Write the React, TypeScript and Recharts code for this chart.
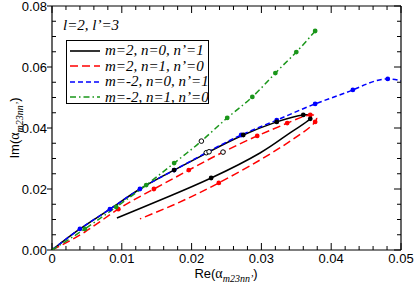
import React from 'react';
import { ComposedChart, Line, Scatter, XAxis, YAxis, Legend } from 'recharts';

// ---------- data ----------
const blackPath = [
  { x: 0, y: 0 }, { x: 0.0040, y: 0.0069 }, { x: 0.0083, y: 0.0134 }, { x: 0.0126, y: 0.0200 },
  { x: 0.0175, y: 0.0262 }, { x: 0.0225, y: 0.0322 }, { x: 0.0274, y: 0.0377 }, { x: 0.0322, y: 0.0420 },
  { x: 0.0360, y: 0.0443 }, { x: 0.0370, y: 0.0430 }, { x: 0.0341, y: 0.0384 }, { x: 0.0298, y: 0.0318 },
  { x: 0.0228, y: 0.0236 }, { x: 0.0169, y: 0.0177 }, { x: 0.0126, y: 0.0136 }, { x: 0.0093, y: 0.0105 },
];
const blackMarks = [
  { x: 0.0175, y: 0.0262 }, { x: 0.0274, y: 0.0377 }, { x: 0.0322, y: 0.0420 },
  { x: 0.0360, y: 0.0443 }, { x: 0.0370, y: 0.0430 }, { x: 0.0228, y: 0.0236 },
];
const blackOpen = [{ x: 0.0225, y: 0.0322 }];

const redPath = [
  { x: 0, y: 0 }, { x: 0.0047, y: 0.0059 }, { x: 0.0095, y: 0.0134 }, { x: 0.0146, y: 0.0200 },
  { x: 0.0196, y: 0.0262 }, { x: 0.0245, y: 0.0321 }, { x: 0.0294, y: 0.0374 }, { x: 0.0337, y: 0.0416 },
  { x: 0.0370, y: 0.0443 }, { x: 0.0377, y: 0.0420 }, { x: 0.0344, y: 0.0361 }, { x: 0.0298, y: 0.0295 },
  { x: 0.0239, y: 0.0220 }, { x: 0.0183, y: 0.0157 }, { x: 0.0126, y: 0.0102 },
];
const redMarks = [
  { x: 0, y: 0 }, { x: 0.0095, y: 0.0134 }, { x: 0.0146, y: 0.0200 }, { x: 0.0196, y: 0.0262 },
  { x: 0.0294, y: 0.0374 }, { x: 0.0337, y: 0.0416 }, { x: 0.0370, y: 0.0443 }, { x: 0.0377, y: 0.0420 },
  { x: 0.0239, y: 0.0220 },
];
const redOpen = [{ x: 0.0245, y: 0.0321 }];

const bluePath = [
  { x: 0, y: 0 }, { x: 0.0040, y: 0.0069 }, { x: 0.0083, y: 0.0134 }, { x: 0.0126, y: 0.0200 },
  { x: 0.0175, y: 0.0262 }, { x: 0.0221, y: 0.0319 }, { x: 0.0271, y: 0.0377 }, { x: 0.0322, y: 0.0426 },
  { x: 0.0377, y: 0.0479 }, { x: 0.0431, y: 0.0525 }, { x: 0.0481, y: 0.0561 }, { x: 0.0531, y: 0.0525 },
];
const blueMarks = [
  { x: 0, y: 0 }, { x: 0.0040, y: 0.0069 }, { x: 0.0083, y: 0.0134 }, { x: 0.0126, y: 0.0200 },
  { x: 0.0175, y: 0.0262 }, { x: 0.0271, y: 0.0377 }, { x: 0.0322, y: 0.0426 },
  { x: 0.0377, y: 0.0479 }, { x: 0.0431, y: 0.0525 }, { x: 0.0481, y: 0.0561 },
];
const blueOpen = [{ x: 0.0221, y: 0.0319 }];

const greenPath = [
  { x: 0, y: 0 }, { x: 0.0047, y: 0.0069 }, { x: 0.0092, y: 0.0141 }, { x: 0.0135, y: 0.0213 },
  { x: 0.0175, y: 0.0285 }, { x: 0.0214, y: 0.0357 }, { x: 0.0251, y: 0.0433 }, { x: 0.0287, y: 0.0502 },
  { x: 0.0320, y: 0.0580 }, { x: 0.0350, y: 0.0649 }, { x: 0.0377, y: 0.0718 },
];
const greenMarks = [
  { x: 0, y: 0 }, { x: 0.0047, y: 0.0069 }, { x: 0.0092, y: 0.0141 }, { x: 0.0135, y: 0.0213 },
  { x: 0.0175, y: 0.0285 }, { x: 0.0251, y: 0.0433 }, { x: 0.0287, y: 0.0502 },
  { x: 0.0320, y: 0.0580 }, { x: 0.0350, y: 0.0649 }, { x: 0.0377, y: 0.0718 },
];
const greenOpen = [{ x: 0.0214, y: 0.0357 }];

const xTicks = [0, 0.002, 0.004, 0.006, 0.008, 0.01, 0.012, 0.014, 0.016, 0.018, 0.02, 0.022, 0.024, 0.026, 0.028,
  0.03, 0.032, 0.034, 0.036, 0.038, 0.04, 0.042, 0.044, 0.046, 0.048, 0.05];
const xLabels: Record<string, string> = { '0': '0', '0.01': '0.01', '0.02': '0.02', '0.03': '0.03', '0.04': '0.04', '0.05': '0.05' };
const yTicks = [0, 0.005, 0.01, 0.015, 0.02, 0.025, 0.03, 0.035, 0.04, 0.045, 0.05, 0.055, 0.06, 0.065, 0.07, 0.075, 0.08];
const yLabels: Record<string, string> = { '0': '0.00', '0.02': '0.02', '0.04': '0.04', '0.06': '0.06', '0.08': '0.08' };

const seriesNames = ['m=2, n=0, n\u2019=1', 'm=2, n=1, n\u2019=0', 'm=-2, n=0, n\u2019=1', 'm=-2, n=1, n\u2019=0'];

// ---------- styles ----------
const C_BLACK = '#000000';
const C_RED = '#ff0000';
const C_BLUE = '#0000ff';
const C_GREEN = '#1a961a';
const D_RED = '8 4';
const D_BLUE = '5 3';
const D_GREEN = '6 3 1.5 3';
const SANS = 'Liberation Sans, Arial, sans-serif';
const SERIF = 'Liberation Serif, Times New Roman, serif';

const isMajorX = (v: number) => Math.abs(v * 100 - Math.round(v * 100)) < 1e-6;
const isMajorY = (v: number) => Math.abs(v * 50 - Math.round(v * 50)) < 1e-6;

const BottomTick = (p: any) => {
  const v = p.payload.value;
  const major = isMajorX(v);
  const lab = xLabels[String(+v.toFixed(3))];
  return (
    <g>
      <line x1={p.x} x2={p.x} y1={p.y} y2={p.y - (major ? 7 : 4)} stroke="#000" strokeWidth={1} />
      {lab !== undefined && (
        <text x={p.x} y={p.y + 13} textAnchor="middle" fontFamily={SANS} fontSize={13} fill="#000">{lab}</text>
      )}
    </g>
  );
};
const TopTick = (p: any) => {
  const v = p.payload.value;
  const major = isMajorX(v);
  return <line x1={p.x} x2={p.x} y1={p.y} y2={p.y + (major ? 7 : 4)} stroke="#000" strokeWidth={1} />;
};
const LeftTick = (p: any) => {
  const v = p.payload.value;
  const major = isMajorY(v);
  const lab = yLabels[String(+v.toFixed(3))];
  return (
    <g>
      {major ? (
        <line x1={p.x - 5} x2={p.x} y1={p.y} y2={p.y} stroke="#000" strokeWidth={1} />
      ) : (
        <line x1={p.x} x2={p.x + 4} y1={p.y} y2={p.y} stroke="#000" strokeWidth={1} />
      )}
      {lab !== undefined && (
        <text x={p.x - 5} y={p.y + 4.7} textAnchor="end" fontFamily={SANS} fontSize={13} fill="#000">{lab}</text>
      )}
    </g>
  );
};
const RightTick = (p: any) => {
  const v = p.payload.value;
  const major = isMajorY(v);
  return <line x1={p.x} x2={p.x - (major ? 7 : 4)} y1={p.y} y2={p.y} stroke="#000" strokeWidth={1} />;
};

const dotShape = (color: string) => (p: any) => <circle cx={p.cx} cy={p.cy} r={2.4} fill={color} stroke="none" />;
const openShape = (p: any) => <circle cx={p.cx} cy={p.cy} r={2.3} fill="#fff" stroke="#000" strokeWidth={1} />;

const legendItems = [
  { name: seriesNames[0], color: C_BLACK, dash: undefined as string | undefined },
  { name: seriesNames[1], color: C_RED, dash: D_RED },
  { name: seriesNames[2], color: C_BLUE, dash: D_BLUE },
  { name: seriesNames[3], color: C_GREEN, dash: D_GREEN },
];

const LegendBox = () => (
  <div style={{ border: '1px solid #000', background: '#fff', width: 141, height: 62, boxSizing: 'content-box', position: 'relative' }}>
    {legendItems.map((it, i) => (
      <div key={i} style={{ position: 'absolute', left: 3, top: 2 + i * 15.5, height: 15, display: 'flex', alignItems: 'center' }}>
        <svg width={30} height={6} style={{ display: 'block' }}>
          <line x1={0} x2={30} y1={3} y2={3} stroke={it.color} strokeWidth={1.6} strokeDasharray={it.dash} />
        </svg>
        <span style={{ marginLeft: 5, fontFamily: SERIF, fontStyle: 'italic', fontSize: 15, lineHeight: '15px', whiteSpace: 'nowrap' }}>{it.name}</span>
      </div>
    ))}
  </div>
);

export default function App() {
  return (
    <div style={{ position: 'absolute', left: 0, top: 0, width: 415, height: 284, background: '#fff' }}>
      <ComposedChart width={415} height={284} margin={{ top: 5, right: 13, bottom: 4, left: 7 }}>
        <XAxis xAxisId={0} type="number" dataKey="x" domain={[0, 0.05]} allowDataOverflow ticks={xTicks} interval={0}
          height={30} tickSize={0} tickMargin={0} tick={<BottomTick />} axisLine={{ stroke: '#000', strokeWidth: 1.2 }} />
        <XAxis xAxisId="top" orientation="top" type="number" dataKey="x" domain={[0, 0.05]} allowDataOverflow ticks={xTicks} interval={0}
          height={1} tickSize={0} tickMargin={0} tick={<TopTick />} axisLine={{ stroke: '#000', strokeWidth: 1.2 }} />
        <YAxis yAxisId={0} type="number" dataKey="y" domain={[0, 0.08]} allowDataOverflow ticks={yTicks} interval={0}
          width={45} tickSize={0} tickMargin={0} tick={<LeftTick />} axisLine={{ stroke: '#000', strokeWidth: 1.2 }} />
        <YAxis yAxisId="right" orientation="right" type="number" dataKey="y" domain={[0, 0.08]} allowDataOverflow ticks={yTicks} interval={0}
          width={1} tickSize={0} tickMargin={0} tick={<RightTick />} axisLine={{ stroke: '#000', strokeWidth: 1.2 }} />

        <Line data={blackPath} dataKey="y" type="natural" stroke={C_BLACK} strokeWidth={1.5} dot={false} isAnimationActive={false} legendType="none" />
        <Line data={redPath} dataKey="y" type="natural" stroke={C_RED} strokeWidth={1.5} strokeDasharray={D_RED} dot={false} isAnimationActive={false} legendType="none" />
        <Line data={bluePath} dataKey="y" type="natural" stroke={C_BLUE} strokeWidth={1.5} strokeDasharray={D_BLUE} dot={false} isAnimationActive={false} legendType="none" />
        <Line data={greenPath} dataKey="y" type="natural" stroke={C_GREEN} strokeWidth={1.5} strokeDasharray={D_GREEN} dot={false} isAnimationActive={false} legendType="none" />

        <Scatter data={redMarks} dataKey="y" shape={dotShape(C_RED)} isAnimationActive={false} legendType="none" />
        <Scatter data={blueMarks} dataKey="y" shape={dotShape(C_BLUE)} isAnimationActive={false} legendType="none" />
        <Scatter data={blackMarks} dataKey="y" shape={dotShape(C_BLACK)} isAnimationActive={false} legendType="none" />
        <Scatter data={greenMarks} dataKey="y" shape={dotShape(C_GREEN)} isAnimationActive={false} legendType="none" />
        <Scatter data={[...greenOpen, ...blueOpen, ...blackOpen, ...redOpen]} dataKey="y" shape={openShape} isAnimationActive={false} legendType="none" />

        <Legend layout="horizontal" verticalAlign="middle" content={() => <LegendBox />}
          wrapperStyle={{ left: 66, top: 40, width: 'auto', height: 'auto' }} />
      </ComposedChart>
      <svg width={415} height={284} style={{ position: 'absolute', left: 0, top: 0, pointerEvents: 'none' }}>
        <text x={63} y={30} fontFamily={SERIF} fontStyle="italic" fontSize={15} fill="#000">l=2, l{'\u2019'}=3</text>
        <text x={226} y={278} textAnchor="middle" fontFamily={SANS} fontSize={13} fill="#000">
          Re(<tspan fontFamily={SERIF} fontSize={14}>α</tspan>
          <tspan fontFamily={SERIF} fontStyle="italic" fontSize={10} dy={4}>m23nn’</tspan>
          <tspan dy={-4}>)</tspan>
        </text>
        <text transform="translate(19,128) rotate(-90)" textAnchor="middle" fontFamily={SANS} fontSize={13} fill="#000">
          Im(<tspan fontFamily={SERIF} fontSize={14}>α</tspan>
          <tspan fontFamily={SERIF} fontStyle="italic" fontSize={10} dy={4}>m23nn’</tspan>
          <tspan dy={-4}>)</tspan>
        </text>
      </svg>
    </div>
  );
}
